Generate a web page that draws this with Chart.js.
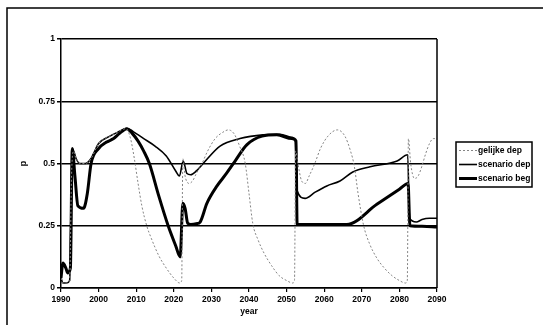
<!DOCTYPE html>
<html>
<head>
<meta charset="utf-8">
<script src="https://cdn.jsdelivr.net/npm/chart.js@4/dist/chart.umd.min.js"></script>
<style>
  html, body { margin: 0; padding: 0; background: #fff; }
  #wrap { width: 543px; height: 325px; position: relative; }
</style>
</head>
<body>
<div id="wrap"><canvas id="pChart" width="543" height="325"></canvas></div>
<script>
// Axis ticks
const yearTicks = [1990, 2000, 2010, 2020, 2030, 2040, 2050, 2060, 2070, 2080, 2090];
const pTicks = [0, 0.25, 0.5, 0.75, 1];

// gelijke dep (thin grey dashed)
const gelijkeYears = [1990, 1990.5, 1991.5, 1992.3, 1992.8, 1993.3, 1994, 1995, 1996.5, 1998,
    2000, 2003, 2005, 2007.3, 2008.5, 2009.5, 2010.5, 2011.5, 2012.8, 2014,
    2016, 2018, 2020, 2021.6, 2022.1, 2022.4, 2023, 2024, 2025, 2026,
    2027.5, 2029, 2031, 2033, 2034.5, 2036, 2037.5, 2039, 2040, 2041,
    2042.5, 2044, 2046, 2048, 2050, 2051.6, 2052.1, 2052.4, 2053, 2054,
    2055, 2056, 2057.5, 2059, 2061, 2063.5, 2065.5, 2067, 2068, 2069,
    2070.5, 2072, 2074, 2076, 2078, 2080, 2081.6, 2082.1, 2082.4, 2083,
    2084, 2085, 2086, 2087, 2088, 2089, 2090];
const gelijkeValues = [0.04, 0.02, 0.02, 0.03, 0.45, 0.55, 0.52, 0.5, 0.5, 0.52,
    0.58, 0.61, 0.625, 0.64, 0.6, 0.52, 0.42, 0.33, 0.25, 0.2,
    0.13, 0.08, 0.04, 0.02, 0.03, 0.52, 0.45, 0.42, 0.43, 0.46,
    0.5, 0.55, 0.6, 0.625, 0.635, 0.62, 0.57, 0.5, 0.38, 0.26,
    0.19, 0.14, 0.09, 0.05, 0.03, 0.02, 0.03, 0.55, 0.5, 0.43,
    0.42, 0.45, 0.5, 0.56, 0.61, 0.635, 0.61, 0.55, 0.49, 0.38,
    0.25, 0.18, 0.12, 0.08, 0.05, 0.03, 0.02, 0.03, 0.6, 0.5,
    0.44, 0.45, 0.49, 0.54, 0.58, 0.6, 0.6];

// scenario dep (medium black)
const depYears = [1990, 1990.5, 1991.5, 1992.3, 1992.8, 1993.3, 1994, 1995, 1996.5, 1998,
    2000, 2003, 2005, 2007.5, 2010, 2012, 2015, 2018, 2020.5, 2021.5,
    2022.5, 2023.5, 2024.5, 2026, 2027.8, 2032.3, 2037.6, 2043.7, 2048.2, 2051.4,
    2052.3, 2052.8, 2054.9, 2057.6, 2060.7, 2064.2, 2067.6, 2072.2, 2079.4, 2082.2,
    2082.7, 2084.5, 2086, 2088, 2090];
const depValues = [0.04, 0.02, 0.02, 0.03, 0.45, 0.55, 0.52, 0.5, 0.5, 0.52,
    0.58, 0.61, 0.625, 0.64, 0.62, 0.6, 0.57, 0.53, 0.47, 0.45,
    0.51, 0.46, 0.455, 0.47, 0.5, 0.57, 0.6, 0.615, 0.617, 0.605,
    0.59, 0.39, 0.36, 0.385, 0.41, 0.43, 0.466, 0.487, 0.51, 0.535,
    0.28, 0.265, 0.275, 0.28, 0.28];

// scenario beg (thick black)
const begYears = [1990, 1990.5, 1991.3, 1991.8, 1992.5, 1993, 1993.7, 1994.5, 1996, 1997,
    1998, 2000, 2002, 2004, 2005.5, 2007.5, 2009, 2010.5, 2012, 2013.5,
    2016, 2018.5, 2020.5, 2021.7, 2022.4, 2023, 2023.7, 2024.5, 2026, 2027,
    2028.8, 2031.5, 2034, 2036.3, 2039.4, 2043.5, 2047.4, 2051.4, 2052.5, 2052.8,
    2060, 2066, 2074, 2080, 2082.3, 2082.8, 2086, 2090];
const begValues = [0.04, 0.1, 0.08, 0.06, 0.08, 0.56, 0.45, 0.33, 0.32, 0.38,
    0.5, 0.56, 0.585, 0.6, 0.62, 0.64, 0.62, 0.59, 0.55, 0.5,
    0.37, 0.25, 0.17, 0.125, 0.34, 0.32, 0.26, 0.255, 0.258, 0.265,
    0.34, 0.41, 0.46, 0.51, 0.575, 0.61, 0.615, 0.6, 0.59, 0.255,
    0.255, 0.255, 0.336, 0.397, 0.42, 0.25, 0.248, 0.245];

const toPoints = (xs, ys) => xs.map((x, i) => ({ x: x, y: ys[i] }));

const FONT = 'Liberation Sans, Arial, sans-serif';

// Frame, right border of plot and boxed legend
const decorPlugin = {
    id: 'decor',
    beforeDraw(chart) {
        const c = chart.ctx;
        c.save();
        c.fillStyle = '#fff';
        c.fillRect(0, 0, chart.width, chart.height);
        c.strokeStyle = '#000';
        c.lineWidth = 1.5;
        c.beginPath();
        c.moveTo(7, 325);
        c.lineTo(7, 8);
        c.lineTo(543, 8);
        c.stroke();
        c.restore();
    },
    afterDraw(chart) {
        const c = chart.ctx;
        const area = chart.chartArea;
        c.save();
        c.strokeStyle = '#000';
        c.lineWidth = 1.5;
        c.beginPath();
        c.moveTo(area.right, area.top);
        c.lineTo(area.right, area.bottom);
        c.stroke();

        // legend
        const lx = 456, ly = 142, lw = 76, lh = 45;
        c.lineWidth = 1.5;
        c.strokeRect(lx, ly, lw, lh);
        c.font = 'bold 8.5px ' + FONT;
        c.fillStyle = '#000';
        c.textBaseline = 'middle';
        chart.data.datasets.forEach((ds, i) => {
            const y = ly + 8.5 + i * 14;
            c.strokeStyle = ds.borderColor;
            c.lineWidth = ds.borderWidth;
            c.setLineDash(ds.borderDash || []);
            c.beginPath();
            c.moveTo(lx + 3, y);
            c.lineTo(lx + 21, y);
            c.stroke();
            c.setLineDash([]);
            c.fillText(ds.label, lx + 22, y + 0.5);
        });
        c.restore();
    }
};

const ctx = document.getElementById('pChart').getContext('2d');
const pChart = new Chart(ctx, {
    type: 'line',
    data: {
        datasets: [
            {
                label: 'gelijke dep',
                data: toPoints(gelijkeYears, gelijkeValues),
                borderColor: '#858585',
                borderWidth: 1,
                borderDash: [2, 2],
                cubicInterpolationMode: 'monotone',
            },
            {
                label: 'scenario dep',
                data: toPoints(depYears, depValues),
                borderColor: '#000',
                borderWidth: 1.6,
                cubicInterpolationMode: 'monotone',
            },
            {
                label: 'scenario beg',
                data: toPoints(begYears, begValues),
                borderColor: '#000',
                borderWidth: 3,
                cubicInterpolationMode: 'monotone',
            },
        ],
    },
    options: {
        responsive: false,
        animation: false,
        layout: { padding: { left: 0, top: 39, right: 106, bottom: 0 } },
        elements: { point: { radius: 0 }, line: { borderCapStyle: 'butt' } },
        plugins: {
            legend: { display: false },
            tooltip: { enabled: false },
        },
        scales: {
            x: {
                type: 'linear',
                min: 1990,
                max: 2090,
                afterBuildTicks: (scale) => { scale.ticks = yearTicks.map(v => ({ value: v })); },
                afterFit: (scale) => { scale.height = 37; },
                ticks: {
                    color: '#000',
                    font: { family: FONT, size: 8.5, weight: 'bold' },
                    padding: 3,
                    maxRotation: 0,
                    callback: (v) => String(v),
                },
                grid: { drawOnChartArea: false, drawTicks: true, tickLength: 4, color: '#000', lineWidth: 1.2 },
                border: { color: '#000', width: 1.5 },
                title: {
                    display: true,
                    text: 'year',
                    color: '#000',
                    font: { family: FONT, size: 8.5, weight: 'bold' },
                    padding: { top: 0, bottom: 8 },
                },
            },
            y: {
                min: 0,
                max: 1,
                afterBuildTicks: (scale) => { scale.ticks = pTicks.map(v => ({ value: v })); },
                afterFit: (scale) => { scale.width = 61; },
                ticks: {
                    color: '#000',
                    font: { family: FONT, size: 8.5, weight: 'bold' },
                    padding: 2,
                    callback: (v) => String(v),
                },
                grid: { color: '#000', lineWidth: 1.5, tickLength: 4 },
                border: { color: '#000', width: 1.5 },
                title: {
                    display: true,
                    text: 'p',
                    color: '#000',
                    font: { family: FONT, size: 9, weight: 'bold' },
                    padding: { top: 18, bottom: 0 },
                },
            },
        },
    },
    plugins: [decorPlugin],
});
</script>
</body>
</html>
